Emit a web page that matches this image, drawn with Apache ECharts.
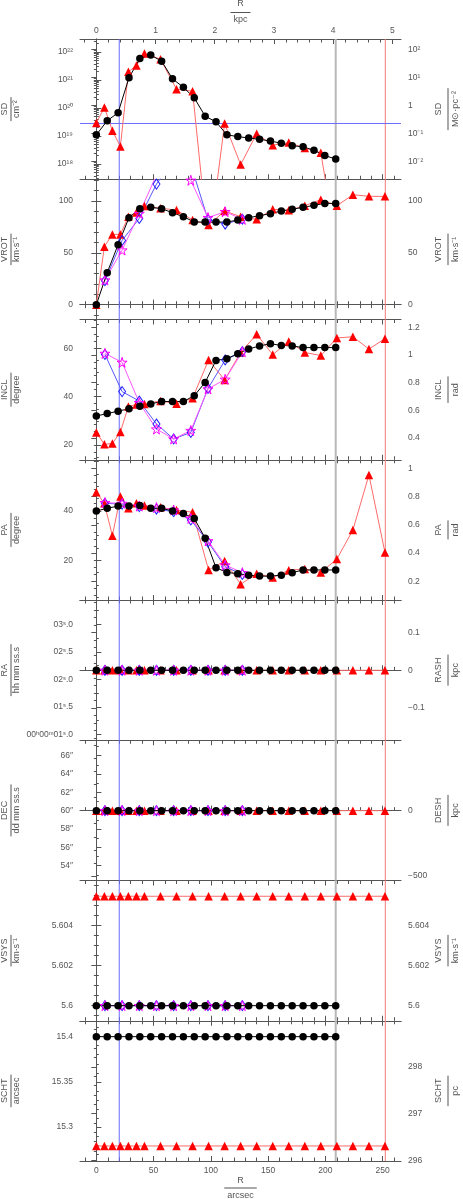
<!DOCTYPE html>
<html>
<head>
<meta charset="utf-8">
<script src="https://cdn.jsdelivr.net/npm/echarts@6/dist/echarts.min.js"></script>
<style>
  html, body { margin: 0; padding: 0; background: #fff; }
  #chart { width: 463px; height: 1199px; }
</style>
</head>
<body>
<div id="chart"></div>
<script>
// 半径（arcsec）：黑点 / 红三角 / 蓝菱形与紫星共用
const R_BLACK = [0, 9.5, 19, 28.5, 38, 47.5, 57, 66.5, 76, 85.5, 95, 104.5, 114, 123.5, 133, 142.5, 152, 161.5, 171, 180.5, 190, 199.5, 209];
const R_RED = [0, 7, 14, 21, 28, 35, 42, 56, 70, 84, 98, 112, 126, 140, 154, 168, 182, 196, 210, 224, 238, 252];
const R_RING = [7.5, 22.5, 37.5, 52.5, 67.5, 82.5, 97.5, 112.5, 127.5];

// 参考线（arcsec）与 SD 阈值
const REF_LINES = [20, 209, 252.3];
const SD_CUTOFF = 2.8e19;

const SD_BLACK = [1.1e19, 3.5e19, 6.8e19, 1.2e21, 5.8e21, 7.8e21, 4.7e21, 1.1e21, 5.5e20, 2.3e20, 5.1e19, 3.2e19, 1.1e19, 9.5e18, 8.5e18, 7.6e18, 6.6e18, 5.5e18, 4.5e18, 4.1e18, 3.1e18, 2.0e18, 1.5e18];
const SD_RED = [2.9e19, 1.05e20, 1.55e19, 4.2e18, 1.95e21, 3.3e21, 8.9e21, 5.5e21, 4.7e20, 4.0e20, 1e15, 2.8e19, 9.5e17, 1.2e19, 4.7e18, 5.8e18, 3.7e18, 2.5e18, 1e15, null, null, null];

const VROT_BLACK = [0, 30.9, 57.9, 83.9, 92.6, 93.9, 92.6, 88.7, 84.9, 79.7, 79.7, 79.7, 79.7, 81.7, 83.9, 85.9, 87.8, 90.4, 92, 93.9, 95.8, 97.7, 97.7];
const VROT_RED = [0, 56, 67.8, 67.8, 84.9, 89, 95.2, 93, 91.3, 81.7, 76.8, 90.4, 84.9, 82.3, 92, 91, 95.5, 101.3, 95.5, 106.1, 104.5, 104.5];
const VROT_BLUE = [23.2, 62, 83.2, 116.3, 140, 135, 82, 77.8, 82.6];
const VROT_MAGENTA = [23.8, 52.7, 88, 125, 145, 120, 84, 89.7, 82.3];

const INCL_BLACK = [32, 33, 34, 35, 36, 37, 38, 38, 38, 40.4, 45.9, 55, 55.7, 57.8, 59.7, 61, 61.9, 61.2, 61, 60.3, 60.3, 60.3, 60.3];
const INCL_RED = [25.2, 20.3, 20.6, 25.4, 35.9, 36.8, 37, 38.2, 37.1, 39.3, 55.2, 46.9, 58.3, 65.8, 57.4, 62.8, 58.3, 57, 64.3, 64.8, 59.7, 64];
const INCL_BLUE = [57.5, 42.1, 38.2, 28.7, 22.5, 25.2, 43.4, 55.2, 58.6];
const INCL_MAGENTA = [57.9, 54.2, 37.5, 26.6, 22.5, 26, 43.2, 47.2, 58.6];

const PA_BLACK = [40, 41.1, 42, 42, 42.2, 41.1, 41.1, 40, 39, 37, 29, 17, 15.1, 14.6, 14, 13.6, 13.6, 14, 15, 16.1, 16.1, 16.1, 16.1];
const PA_RED = [47.6, 43.1, 30, 45.9, 41.1, 43.1, 42.2, 41.5, 40.4, 39.5, 16.1, 19.7, 10.3, 14.6, 13, 16, 16.5, 15.1, 20.5, 32.3, 54.6, 23.2];
const PA_BLUE = [43.1, 42.8, 41.8, 40.8, 39.7, 36.4, 27.4, 17.4, 14.3];
const PA_MAGENTA = [43.4, 43.1, 42, 41.4, 40.4, 37, 27.9, 18.1, 15];

const RA_BLACK = [2.164, 2.164, 2.164, 2.164, 2.164, 2.164, 2.164, 2.164, 2.164, 2.164, 2.164, 2.164, 2.164, 2.164, 2.164, 2.164, 2.164, 2.164, 2.164, 2.164, 2.164, 2.164, 2.164];
const RA_RED = [2.164, 2.164, 2.164, 2.164, 2.164, 2.164, 2.164, 2.164, 2.164, 2.164, 2.164, 2.164, 2.164, 2.164, 2.164, 2.164, 2.164, 2.164, 2.164, 2.164, 2.164, 2.164];
const RA_RING = [2.164, 2.164, 2.164, 2.164, 2.164, 2.164, 2.164, 2.164, 2.164];

const DEC_BLACK = [60, 60, 60, 60, 60, 60, 60, 60, 60, 60, 60, 60, 60, 60, 60, 60, 60, 60, 60, 60, 60, 60, 60];
const DEC_RED = [60, 60, 60, 60, 60, 60, 60, 60, 60, 60, 60, 60, 60, 60, 60, 60, 60, 60, 60, 60, 60, 60];
const DEC_RING = [60, 60, 60, 60, 60, 60, 60, 60, 60];

const VSYS_BLACK = [5.6, 5.6, 5.6, 5.6, 5.6, 5.6, 5.6, 5.6, 5.6, 5.6, 5.6, 5.6, 5.6, 5.6, 5.6, 5.6, 5.6, 5.6, 5.6, 5.6, 5.6, 5.6, 5.6];
const VSYS_RED = [5.60547, 5.60547, 5.60547, 5.60547, 5.60547, 5.60547, 5.60547, 5.60547, 5.60547, 5.60547, 5.60547, 5.60547, 5.60547, 5.60547, 5.60547, 5.60547, 5.60547, 5.60547, 5.60547, 5.60547, 5.60547, 5.60547];
const VSYS_RING = [5.6, 5.6, 5.6, 5.6, 5.6, 5.6, 5.6, 5.6, 5.6];

const SCHT_BLACK = [15.4, 15.4, 15.4, 15.4, 15.4, 15.4, 15.4, 15.4, 15.4, 15.4, 15.4, 15.4, 15.4, 15.4, 15.4, 15.4, 15.4, 15.4, 15.4, 15.4, 15.4, 15.4, 15.4];
const SCHT_RED = [15.279, 15.279, 15.279, 15.279, 15.279, 15.279, 15.279, 15.279, 15.279, 15.279, 15.279, 15.279, 15.279, 15.279, 15.279, 15.279, 15.279, 15.279, 15.279, 15.279, 15.279, 15.279];

// 刻度标签
const R_TICKS = [0, 50, 100, 150, 200, 250];
const KPC_TICKS = [0, 1, 2, 3, 4, 5];
const SD_TICKS = [1e18, 1e19, 1e20, 1e21, 1e22];
const SD_SOLAR_TICKS = [0.01, 0.1, 1, 10, 100];
const VROT_TICKS = [0, 50, 100];
const INCL_TICKS = [20, 40, 60];
const INCL_RAD_TICKS = [0.4, 0.6, 0.8, 1, 1.2];
const PA_TICKS = [20, 40];
const PA_RAD_TICKS = [0.2, 0.4, 0.6, 0.8, 1];
const RA_TICKS = [1, 1.5, 2, 2.5, 3];
const RASH_TICKS = [-0.1, 0, 0.1];
const DEC_TICKS = [54, 56, 58, 60, 62, 64, 66];
const DESH_TICKS = [-500, 0];
const VSYS_TICKS = [5.6, 5.602, 5.604];
const SCHT_TICKS = [15.3, 15.35, 15.4];
const SCHT_PC_TICKS = [296, 297, 298];

// ============ 布局与样式 ============
const FONT = '"Liberation Sans", Arial, sans-serif';
const TXT = '#555';
const AXIS = '#555';
const LEFT = 80, RIGHT = 401, TOP = 39, PANEL_H = 140.25;
const X_MIN = -14.26, X_MAX = 266;
const ARCSEC_PER_KPC = 51.69;
const STAR = 'path://M50,0 L61,35 L98,35 L68,57 L79,91 L50,70 L21,91 L32,57 L2,35 L39,35 Z';
const REF_STYLES = [
  { color: '#6a6aff', width: 1 },
  { color: '#b8b8b8', width: 2 },
  { color: '#f07a7a', width: 1 },
];

const steps = (lo, hi, step) => {
  const out = [];
  for (let n = Math.ceil(lo / step - 1e-9); n <= Math.floor(hi / step + 1e-9); n++) out.push(+(n * step).toFixed(6));
  return out;
};
const logSteps = (lo, hi) => {
  const out = [];
  for (let e = Math.floor(Math.log10(lo)); e <= Math.ceil(Math.log10(hi)); e++) {
    for (let k = 1; k < 10; k++) { const v = k * 10 ** e; if (v >= lo && v <= hi) out.push(v); }
  }
  return out;
};
const SUP = { 0: '⁰', 1: '¹', 2: '²', 3: '³', 4: '⁴', 5: '⁵', 6: '⁶', 7: '⁷', 8: '⁸', 9: '⁹', '-': '⁻' };
const pow10 = (v) => { const e = Math.round(Math.log10(v)); return e === 0 ? '1' : '10' + String(e).split('').map((c) => SUP[c]).join(''); };
const plain = (v) => String(+Number(v).toFixed(6)).replace('-', '−');
const raFmt = (v) => {
  const [a, b] = Number(v).toFixed(1).split('.');
  return (v <= RA_TICKS[0] ? '00ʰ00ᵐ' : '') + a.padStart(2, '0') + 'ˢ.' + b;
};
const decFmt = (v) => v + '″';

const PANELS = [
  { l: { type: 'log', min: 2.851e17, max: 2.911e22, ticks: SD_TICKS, fmt: pow10 },
    r: { type: 'log', min: 2.283e-3, max: 233.1, ticks: SD_SOLAR_TICKS, fmt: pow10 },
    tl: ['SD', 'cm⁻²'], tr: ['SD', 'M⊙·pc⁻²'], black: SD_BLACK, red: SD_RED, hline: SD_CUTOFF },
  { l: { min: -14.3, max: 121, ticks: VROT_TICKS, minor: 10 },
    r: { min: -14.3, max: 121, ticks: VROT_TICKS, minor: 10 },
    tl: ['VROT', 'km·s⁻¹'], tr: ['VROT', 'km·s⁻¹'], black: VROT_BLACK, red: VROT_RED, blue: VROT_BLUE, magenta: VROT_MAGENTA },
  { l: { min: 13.9, max: 71.93, ticks: INCL_TICKS, minor: 5 },
    r: { min: 0.2426, max: 1.2554, ticks: INCL_RAD_TICKS, minor: 0.05 },
    tl: ['INCL', 'degree'], tr: ['INCL', 'rad'], black: INCL_BLACK, red: INCL_RED, blue: INCL_BLUE, magenta: INCL_MAGENTA },
  { l: { min: 3.92, max: 60.78, ticks: PA_TICKS, minor: 5 },
    r: { min: 0.0684, max: 1.0608, ticks: PA_RAD_TICKS, minor: 0.05 },
    tl: ['PA', 'degree'], tr: ['PA', 'rad'], black: PA_BLACK, red: PA_RED, blue: PA_BLUE, magenta: PA_MAGENTA },
  { l: { min: 0.892, max: 3.442, ticks: RA_TICKS, minor: 0.25, fmt: raFmt },
    r: { min: -0.1856, max: 0.1867, ticks: RASH_TICKS, minor: 0.02 },
    tl: ['RA', 'hh mm ss.s'], tr: ['RASH', 'kpc'], black: RA_BLACK, red: RA_RED, blue: RA_RING, magenta: RA_RING },
  { l: { min: 52.38, max: 67.68, ticks: DEC_TICKS, minor: 1, fmt: decFmt },
    r: { min: -534.4, max: 538.9, ticks: DESH_TICKS, minor: 100 },
    tl: ['DEC', 'dd mm ss.s'], tr: ['DESH', 'kpc'], black: DEC_BLACK, red: DEC_RED, blue: DEC_RING, magenta: DEC_RING },
  { l: { min: 5.599246, max: 5.606258, ticks: VSYS_TICKS, minor: 0.0005 },
    r: { min: 5.599246, max: 5.606258, ticks: VSYS_TICKS, minor: 0.0005 },
    tl: ['VSYS', 'km·s⁻¹'], tr: ['VSYS', 'km·s⁻¹'], black: VSYS_BLACK, red: VSYS_RED, blue: VSYS_RING, magenta: VSYS_RING },
  { l: { min: 15.26236, max: 15.41762, ticks: SCHT_TICKS, minor: 0.01 },
    r: { min: 295.986, max: 298.991, ticks: SCHT_PC_TICKS, minor: 0.2 },
    tl: ['SCHT', 'arcsec'], tr: ['SCHT', 'pc'], black: SCHT_BLACK, red: SCHT_RED },
];

const labelStyle = { color: TXT, fontSize: 8.5, fontFamily: FONT };

function axis(grid, position, o) {
  return {
    type: o.type || 'value', gridIndex: grid, position, min: o.min, max: o.max,
    axisLine: { show: !!o.line, lineStyle: { color: AXIS, width: 1 } },
    axisTick: { show: true, inside: true, length: o.len, customValues: o.ticks, lineStyle: { color: AXIS, width: 1 } },
    axisLabel: o.labels
      ? { show: true, customValues: o.ticks, margin: o.margin, formatter: o.fmt || plain, ...labelStyle }
      : { show: false },
    splitLine: { show: false },
    minorTick: { show: false },
  };
}

const grids = [], xAxes = [], yAxes = [], series = [], graphics = [];

const measure = (() => {
  const ctx = document.createElement('canvas').getContext('2d');
  return (t, size) => { ctx.font = `${size}px ${FONT}`; return ctx.measureText(t).width; };
})();

// 分数式标题：分子 / 横线 / 分母；竖排时绕 (x, y) 旋转
function fraction(xs, c, num, den, vertical) {
  const size = 9;
  const len = Math.max(measure(num, size), measure(den, size)) + 6;
  const rot = vertical ? Math.PI / 2 : 0;
  const at = (a, b) => (vertical ? [a, b] : [b, a]);
  const txt = (t, a) => {
    const [x, y] = at(a, c);
    return { type: 'text', x, y, rotation: rot, silent: true,
      style: { text: t, fill: TXT, font: `${size}px ${FONT}`, align: 'center', verticalAlign: 'middle' } };
  };
  const [x1, y1] = at(xs[1], c - len / 2);
  const [x2, y2] = at(xs[1], c + len / 2);
  graphics.push(txt(num, xs[0]), txt(den, xs[2]), {
    type: 'line', silent: true, shape: { x1, y1, x2, y2 }, style: { stroke: TXT, lineWidth: 1 },
  });
}

const pts = (xs, ys) => xs.map((x, k) => [x, ys[k] == null ? '-' : ys[k]]);

PANELS.forEach((p, i) => {
  const top = TOP + i * PANEL_H;
  const last = i === PANELS.length - 1;
  grids.push({ left: LEFT, top, width: RIGHT - LEFT, height: PANEL_H });

  const xi = xAxes.length, yi = yAxes.length;
  // x：底部 arcsec（数据轴）+ 次刻度；顶部（第一格为 kpc）
  xAxes.push(axis(i, 'bottom', { min: X_MIN, max: X_MAX, ticks: R_TICKS, len: 5, line: true, labels: last, margin: 5 }));
  xAxes.push(axis(i, 'bottom', { min: X_MIN, max: X_MAX, ticks: steps(-10, 260, 10), len: 3.5 }));
  if (i === 0) {
    const kmin = X_MIN / ARCSEC_PER_KPC, kmax = X_MAX / ARCSEC_PER_KPC;
    xAxes.push(axis(i, 'top', { min: kmin, max: kmax, ticks: KPC_TICKS, len: 5, line: true, labels: true, margin: 4 }));
    xAxes.push(axis(i, 'top', { min: kmin, max: kmax, ticks: steps(kmin, kmax, 0.2), len: 3.5 }));
  } else {
    xAxes.push(axis(i, 'top', { min: X_MIN, max: X_MAX, ticks: R_TICKS, len: 5, line: true }));
    xAxes.push(axis(i, 'top', { min: X_MIN, max: X_MAX, ticks: steps(-10, 260, 10), len: 3.5 }));
  }

  // y：左右各一条主轴 + 一条次刻度轴
  [['left', p.l], ['right', p.r]].forEach(([pos, a]) => {
    const minor = a.type === 'log' ? logSteps(a.min, a.max) : steps(a.min, a.max, a.minor);
    yAxes.push(axis(i, pos, { ...a, len: 5, line: true, labels: true, margin: 7 }));
    yAxes.push(axis(i, pos, { type: a.type, min: a.min, max: a.max, ticks: minor, len: 2.5 }));
  });

  // 参考线：竖线贯穿整格（取 y 轴两端），SD 格另有一条水平阈值线
  const refs = REF_LINES.map((x, k) => [[[x, p.l.min], [x, p.l.max]], REF_STYLES[k]]);
  if (p.hline) refs.push([[[X_MIN, p.hline], [X_MAX, p.hline]], REF_STYLES[0]]);
  refs.forEach(([data, st]) => series.push({
    type: 'line', xAxisIndex: xi, yAxisIndex: yi, data, silent: true, z: 1,
    symbol: 'none', lineStyle: { color: st.color, width: st.width },
  }));

  const base = { type: 'line', xAxisIndex: xi, yAxisIndex: yi, silent: true, z: 2, connectNulls: false };
  series.push({ ...base, data: pts(R_RED, p.red), symbol: 'triangle', symbolSize: 8.5,
    itemStyle: { color: '#ff0000' }, lineStyle: { color: '#ff6a6a', width: 1 } });
  if (p.blue) series.push({ ...base, data: pts(R_RING, p.blue), symbol: 'diamond', symbolSize: [7, 10],
    itemStyle: { color: 'rgba(0,0,0,0)', borderColor: '#2020ff', borderWidth: 1 }, lineStyle: { color: '#5555ff', width: 1 } });
  if (p.magenta) series.push({ ...base, data: pts(R_RING, p.magenta), symbol: STAR, symbolSize: 10,
    itemStyle: { color: 'rgba(0,0,0,0)', borderColor: '#ff00ff', borderWidth: 1 }, lineStyle: { color: '#ff55ff', width: 1 } });
  series.push({ ...base, data: pts(R_BLACK, p.black), symbol: 'circle', symbolSize: 7.5,
    itemStyle: { color: '#000' }, lineStyle: { color: '#000', width: 1 } });

  const cy = top + PANEL_H / 2;
  fraction([5, 11, 17], cy, p.tl[0], p.tl[1], true);
  fraction([439, 448, 456], cy, p.tr[0], p.tr[1], true);
});

// 顶部 kpc 与底部 arcsec 轴名
const cx = (LEFT + RIGHT) / 2;
fraction([4, 12.5, 20], cx, 'R', 'kpc', false);
fraction([1181, 1188, 1196], cx, 'R', 'arcsec', false);

const chart = echarts.init(document.getElementById('chart'));
chart.setOption({
  animation: false,
  textStyle: { fontFamily: FONT },
  grid: grids,
  xAxis: xAxes,
  yAxis: yAxes,
  series,
  graphic: graphics,
});
</script>
</body>
</html>
